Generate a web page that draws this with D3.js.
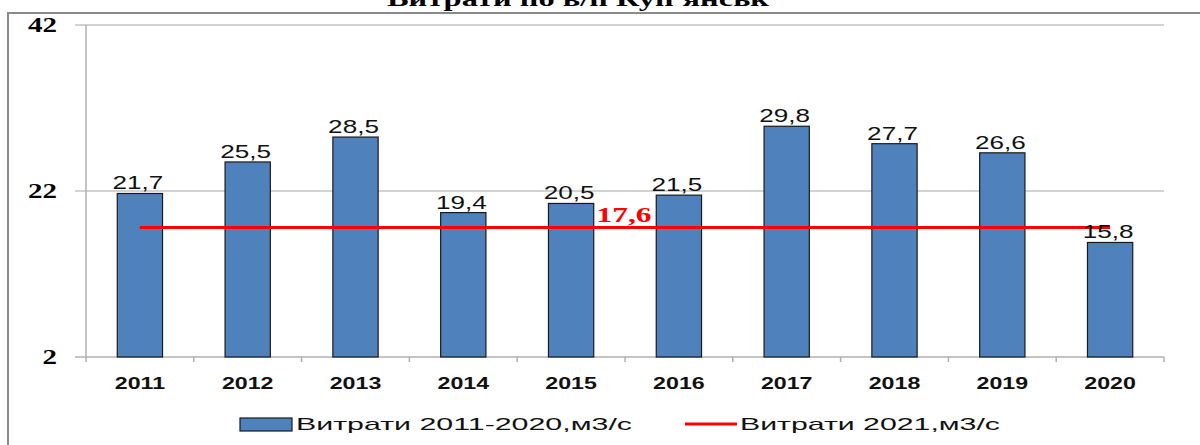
<!DOCTYPE html>
<html><head><meta charset="utf-8">
<script src="https://cdn.jsdelivr.net/npm/d3@7"></script>
<style>html,body{margin:0;padding:0;background:#fff;}svg{display:block;}</style>
</head><body>
<svg id="chart" width="1200" height="445"></svg>
<script>
const categories = ["2011","2012","2013","2014","2015","2016","2017","2018","2019","2020"];
const flows = [21.7, 25.5, 28.5, 19.4, 20.5, 21.5, 29.8, 27.7, 26.6, 15.8];
const flow2021 = 17.6;
const yTicks = [2, 22, 42];
const title = "Витрати по в/п Куп'янськ";
const seriesNames = ["Витрати 2011-2020,м3/с", "Витрати 2021,м3/с"];

const fmt = v => String(v).replace(".", ",");
const SX = 1.45;
const svg = d3.select("#chart");

// outer border (left + top)
svg.append("path").attr("d","M8,445 L8,13 L1200,13").attr("fill","none").attr("stroke","#8a8a8a").attr("stroke-width",2);

// title (cut at top)
svg.append("text").attr("x",578).attr("y",6).attr("text-anchor","middle")
  .attr("font-family","Liberation Serif").attr("font-weight","bold").attr("font-size",22)
  .attr("textLength",382).attr("lengthAdjust","spacingAndGlyphs").text(title);

const x = d3.scaleBand().domain(categories).range([86,1164]).paddingInner(0.58).paddingOuter(0.29);
const xb = d3.scaleBand().domain(categories).range([86,1164]);
const y = d3.scaleLinear().domain([2,42]).range([357,25]);

// gridlines
svg.append("g").selectAll("line").data(yTicks.filter(t=>t!==2)).join("line")
  .attr("x1",75).attr("x2",1164).attr("y1",d=>y(d)).attr("y2",d=>y(d))
  .attr("stroke","#c4c4c4").attr("stroke-width",1.5);

// y axis
svg.append("line").attr("x1",86).attr("x2",86).attr("y1",y(42)).attr("y2",y(2)).attr("stroke","#b0b0b0").attr("stroke-width",1.5);
// x axis
svg.append("line").attr("x1",75).attr("x2",1164).attr("y1",y(2)).attr("y2",y(2)).attr("stroke","#b0b0b0").attr("stroke-width",1.5);
// x ticks at category boundaries
const bounds = categories.map(c=>xb(c)).concat([1164]);
svg.append("g").selectAll("line").data(bounds).join("line")
  .attr("x1",d=>d).attr("x2",d=>d).attr("y1",y(2)).attr("y2",y(2)+5)
  .attr("stroke","#b0b0b0").attr("stroke-width",1.5);

// y tick labels
svg.append("g").selectAll("text").data(yTicks).join("text")
  .attr("transform",d=>`translate(57,${y(d)+7}) scale(${SX},1)`)
  .attr("text-anchor","end").attr("font-family","Liberation Serif").attr("font-weight","bold").attr("font-size",20)
  .text(d=>d);

// bars
svg.append("g").selectAll("rect").data(flows).join("rect")
  .attr("x",(d,i)=>x(categories[i])).attr("width",x.bandwidth())
  .attr("y",d=>y(d)).attr("height",d=>y(2)-y(d))
  .attr("fill","#4f81bd").attr("stroke","#1a1a1a").attr("stroke-width",1.2);

// red line
svg.append("line").attr("x1",xb(categories[0])+xb.bandwidth()/2).attr("x2",xb(categories[categories.length-1])+xb.bandwidth()/2)
  .attr("y1",y(flow2021)).attr("y2",y(flow2021)).attr("stroke","#ff0000").attr("stroke-width",3);

// value labels
svg.append("g").selectAll("text").data(flows).join("text")
  .attr("transform",(d,i)=>`translate(${xb(categories[i])+xb.bandwidth()/2-2},${y(d)-4}) scale(${SX},1)`)
  .attr("text-anchor","middle").attr("font-family","Liberation Sans").attr("font-size",18).attr("fill","#111")
  .text(d=>fmt(d));

// red label
svg.append("text").attr("transform",`translate(624,${y(flow2021)-6}) scale(1.5,1)`)
  .attr("text-anchor","middle").attr("font-family","Liberation Serif").attr("font-weight","bold").attr("font-size",21)
  .attr("fill","#ff0000").text(fmt(flow2021));

// category labels
svg.append("g").selectAll("text").data(categories).join("text")
  .attr("transform",d=>`translate(${xb(d)+xb.bandwidth()/2},389) scale(${SX},1)`)
  .attr("text-anchor","middle").attr("font-family","Liberation Sans").attr("font-weight","bold").attr("font-size",16).attr("fill","#111")
  .text(d=>d);

// legend
svg.append("rect").attr("x",240).attr("y",418).attr("width",52).attr("height",13).attr("fill","#4f81bd").attr("stroke","#1a1a1a").attr("stroke-width",1.2);
svg.append("text").attr("x",296).attr("y",430).attr("font-family","Liberation Sans").attr("font-size",17).attr("fill","#111")
  .attr("textLength",336).attr("lengthAdjust","spacingAndGlyphs").text(seriesNames[0]);
svg.append("line").attr("x1",685).attr("x2",737).attr("y1",424).attr("y2",424).attr("stroke","#ff0000").attr("stroke-width",3);
svg.append("text").attr("x",740).attr("y",430).attr("font-family","Liberation Sans").attr("font-size",17).attr("fill","#111")
  .attr("textLength",260).attr("lengthAdjust","spacingAndGlyphs").text(seriesNames[1]);
</script>
</body></html>
